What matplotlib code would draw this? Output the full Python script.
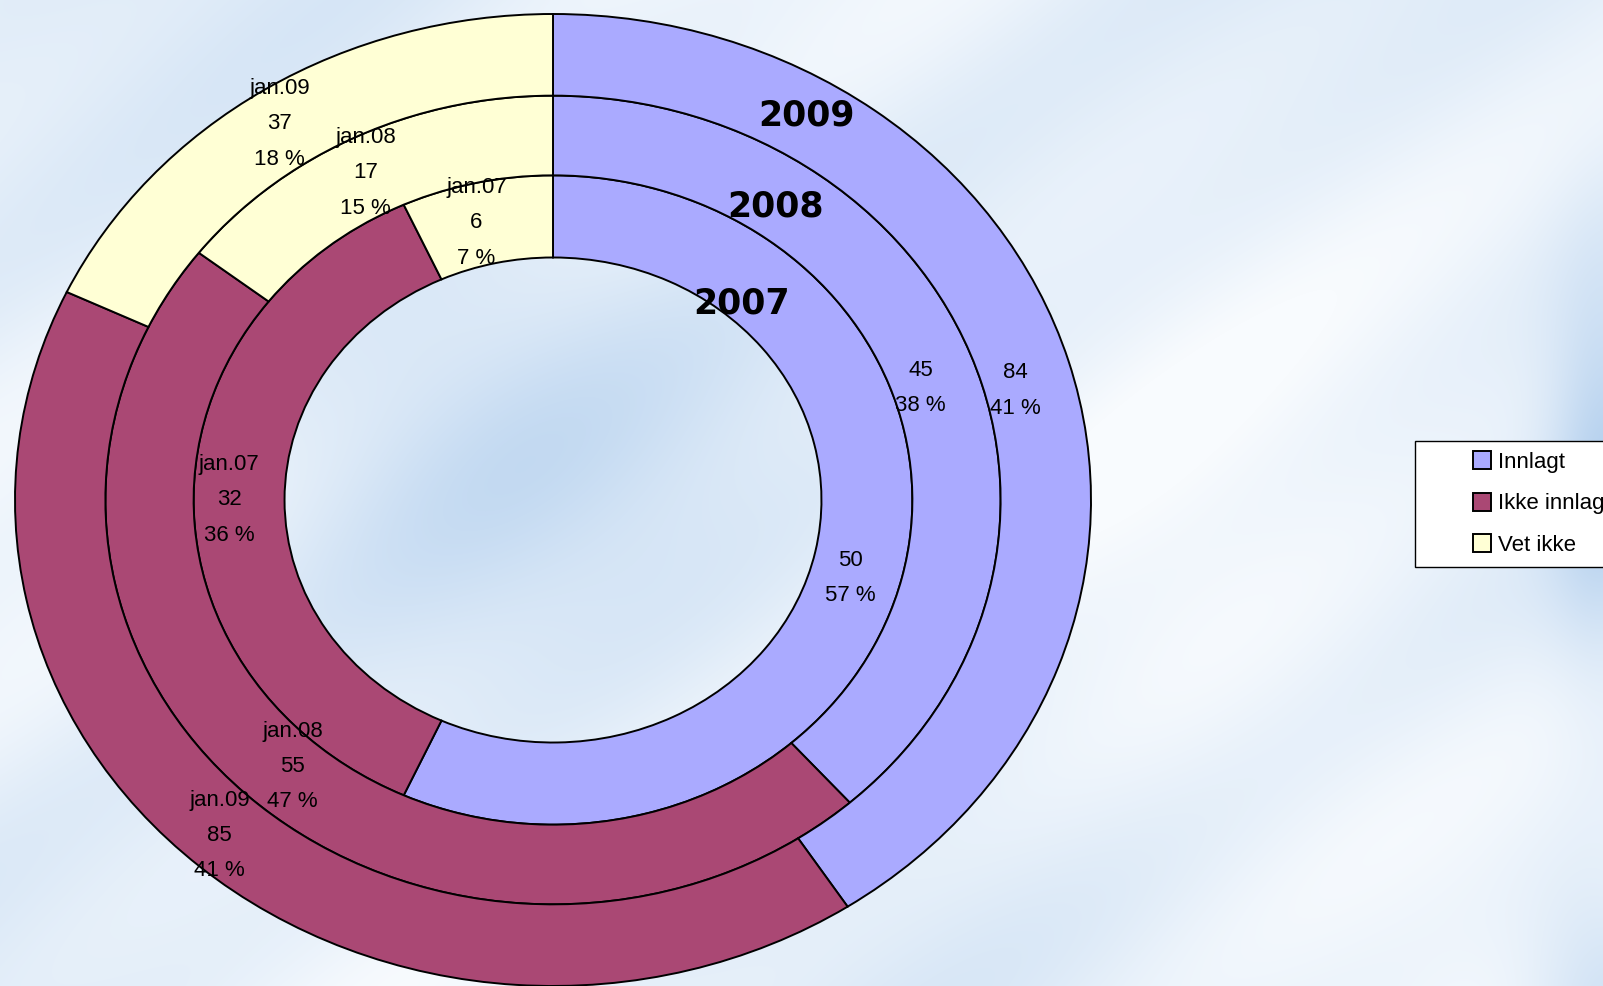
import numpy as np
import matplotlib
matplotlib.use('Agg')
import matplotlib.pyplot as plt
from matplotlib.patches import Rectangle, Wedge
from matplotlib.legend_handler import HandlerPatch

# ---------------- data ----------------
years = ['2007', '2008', '2009']
ring_names = ['jan.07', 'jan.08', 'jan.09']
categories = ['Innlagt', 'Ikke innlagt', 'Vet ikke']
innlagt = [50, 45, 84]
ikke_innlagt = [32, 55, 85]
vet_ikke = [6, 17, 37]
colors = ['#AAAAFF', '#AA4874', '#FFFFD5']

# ---------------- figure ----------------
W, H = 1603, 986
fig = plt.figure(figsize=(W / 100, H / 100), dpi=100)

# textured light-blue background
yy, xx = np.mgrid[0:H, 0:W].astype(float)
u = 0.6 * xx + 0.8 * yy
t = (0.26 + 0.12 * np.sin(u / 95.0) + 0.07 * np.sin(u / 37.0 + 2.0)
     + 0.06 * np.sin(xx / 210.0 - yy / 300.0)
     + 0.32 * np.exp(-(((xx - 480) / 240.0) ** 2 + ((yy - 440) / 220.0) ** 2))
     - 0.20 * np.exp(-(((xx - 1200) / 260.0) ** 2 + ((yy - 700) / 300.0) ** 2))
     + 0.60 * np.exp(-((W - xx) / 55.0) ** 2) * np.exp(-((yy - 470) / 200.0) ** 2)
     + 0.45 * np.exp(-((W - xx) / 80.0) ** 2 - ((H - yy) / 120.0) ** 2))
t = np.clip(t, 0, 1)[..., None]
white = np.array([248, 251, 254]) / 255.0
blue = np.array([180, 208, 238]) / 255.0
bg = white * (1 - t) + blue * t
bax = fig.add_axes([0, 0, 1, 1])
bax.imshow(bg, aspect='auto', extent=(0, W, H, 0))
bax.set_axis_off()

# pie axes (elliptical donut)
cx, cy, rx, ry = 553, 500, 538, 486
ax = fig.add_axes([(cx - rx) / W, (H - cy - ry) / H, 2 * rx / W, 2 * ry / H])
ax.patch.set_alpha(0)

radii = [0.668, 0.832, 1.0]
widths = [0.169, 0.164, 0.168]
series = list(zip(innlagt, ikke_innlagt, vet_ikke))

# small label nudges in points (ring index, category index) -> (dx, dy)
nudge = {(1, 1): (11, 0)}
default_nudge = (-7, 0)

label_font = dict(family=['Liberation Sans', 'DejaVu Sans'], fontsize=16)
outer_wedges = None
for i, vals in enumerate(series):
    wedges, _ = ax.pie(vals, radius=radii[i], startangle=90, counterclock=False,
                       colors=colors,
                       wedgeprops=dict(width=widths[i], edgecolor='black',
                                       linewidth=1.4))
    total = sum(vals)
    for j, (w, v) in enumerate(zip(wedges, vals)):
        w.set_clip_on(False)
        ang = np.deg2rad((w.theta1 + w.theta2) / 2)
        r = w.r - w.width / 2
        pct = int(round(v / total * 100))
        if j == 0:
            s = f" \n{v}\n{pct} %"
        else:
            s = f"{ring_names[i]}\n{v}\n{pct} %"
        ax.annotate(s, xy=(r * np.cos(ang), r * np.sin(ang)),
                    xytext=nudge.get((i, j), default_nudge), textcoords='offset points',
                    ha='center', va='center', linespacing=1.89, **label_font)
    outer_wedges = wedges

ax.set_aspect('auto')
ax.set_xlim(-1, 1)
ax.set_ylim(-1, 1)
ax.set_axis_off()

# year titles on the rings
year_pos = [(0.351, 0.405), (0.413, 0.603), (0.472, 0.792)]
for yr, (x, y) in zip(years, year_pos):
    ax.text(x, y, yr, ha='center', va='center', fontsize=25, fontweight='bold',
            family=['DejaVu Sans'])

# legend (square drawn at the right end of the handle box)
def square(legend, orig_handle, xdescent, ydescent, width, height, fontsize):
    s = 13.0
    return Rectangle((-xdescent + width - s, -ydescent + (height - s) / 2), s, s)

leg = fig.legend(handles=list(outer_wedges), labels=categories, loc='upper left',
                 bbox_to_anchor=(1415 / W, 1 - 441 / H), bbox_transform=fig.transFigure,
                 borderaxespad=0, borderpad=0.5, handlelength=2.93, handleheight=0.7,
                 handletextpad=0.32, labelspacing=0.91, fancybox=False,
                 framealpha=1, edgecolor='black',
                 prop=dict(family=['Liberation Sans', 'DejaVu Sans'], size=16),
                 handler_map={Wedge: HandlerPatch(patch_func=square)})
leg.get_frame().set_linewidth(1.0)

fig.savefig('out.png', dpi=100)
